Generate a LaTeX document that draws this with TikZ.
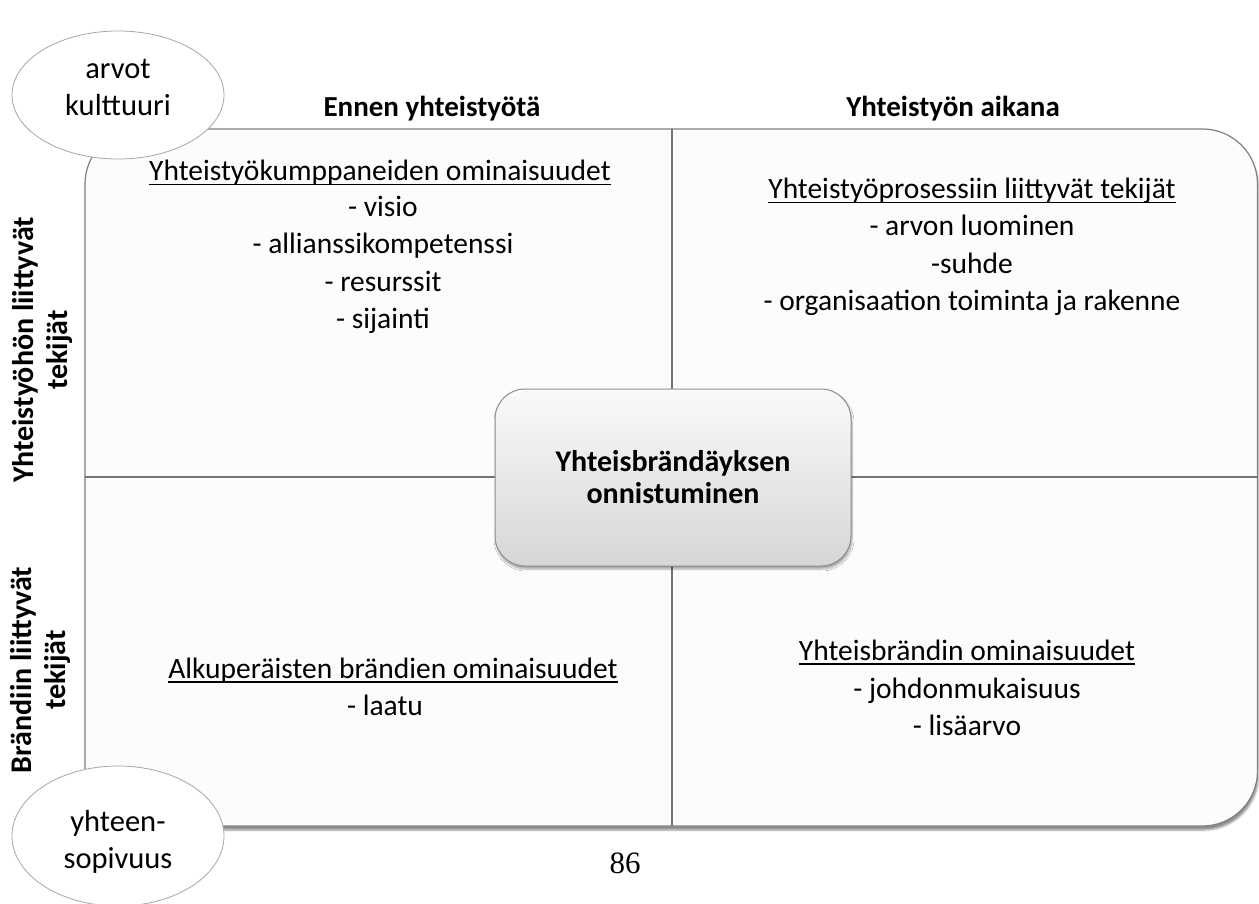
\documentclass[tikz,border=0pt]{standalone}
\usepackage{fontspec}
\setmainfont{Carlito}
\newfontfamily\pagefont{Liberation Serif}
\usetikzlibrary{shapes.geometric,shadows.blur}
% underline with a rule that scales with the text
\newcommand\ulined[1]{\setbox0\hbox{#1}\rlap{\rule[-4.5pt]{\wd0}{1.6pt}}\box0}
\begin{document}
\begin{tikzpicture}[x=1pt,y=-1pt,
  body/.style={font=\fontsize{29.5}{34}\selectfont, anchor=base, inner sep=0pt},
  head/.style={font=\bfseries\fontsize{29}{34}\selectfont, anchor=base, inner sep=0pt},
  side/.style={font=\bfseries\fontsize{30}{34}\selectfont, align=center, rotate=90, inner sep=0pt},
  oval/.style={ellipse, draw=black!35, line width=0.8pt, fill=white, minimum width=212pt, minimum height=128pt, inner sep=0pt},
  ovaltext/.style={font=\fontsize{30.5}{37}\selectfont, align=center, inner sep=0pt},
  hub/.style={draw=black!45, line width=1pt, rounded corners=30pt, top color=black!2, bottom color=black!16,
    minimum width=356pt, minimum height=177pt, align=center, font=\bfseries\fontsize{30}{32}\selectfont,
    blur shadow={shadow xshift=1pt, shadow yshift=-3pt, shadow blur steps=6, shadow opacity=35}},
  frame/.style={draw=black!50, line width=1.2pt, fill=black!1, rounded corners=55pt,
    blur shadow={shadow xshift=1pt, shadow yshift=-4pt, shadow blur steps=6, shadow opacity=45}},
  divider/.style={draw=black!55, line width=1.4pt}
]
\useasboundingbox (0,0) rectangle (1259,904);

% outer frame of the four quadrants
\path[frame] (85,129) rectangle (1257.5,826);
\coordinate (topmid) at (672,129);
\coordinate (botmid) at (672,826);
\coordinate (leftmid) at (85,477);
\coordinate (rightmid) at (1257.5,477);
\draw[divider] (topmid) -- (botmid);
\draw[divider] (leftmid) -- (rightmid);

% column headers
\node[head] (colA) at (432,117) {Ennen yhteistyötä};
\node[head] (colB) at (953,117) {Yhteistyön aikana};

% row headers
\node[side] (rowA) at (43,350) {Yhteistyöhön liittyvät\\tekijät};
\node[side] (rowB) at (41,670) {Brändiin liittyvät\\tekijät};

% top left quadrant
\node[body] (qa0) at (380,181) {\ulined{Yhteistyökumppaneiden ominaisuudet}};
\node[body] (qa1) at (383,217) {- visio};
\node[body] (qa2) at (383,254) {- allianssikompetenssi};
\node[body] (qa3) at (383,291) {- resurssit};
\node[body] (qa4) at (383,328) {- sijainti};

% top right quadrant
\node[body] (qb0) at (972,199) {\ulined{Yhteistyöprosessiin liittyvät tekijät}};
\node[body] (qb1) at (972,236) {- arvon luominen};
\node[body] (qb2) at (972,273) {-suhde};
\node[body] (qb3) at (972,310) {- organisaation toiminta ja rakenne};

% bottom left quadrant
\node[body] (qc0) at (393,678) {\ulined{Alkuperäisten brändien ominaisuudet}};
\node[body] (qc1) at (385,715) {- laatu};

% bottom right quadrant
\node[body] (qd0) at (967,660) {\ulined{Yhteisbrändin ominaisuudet}};
\node[body] (qd1) at (967,698) {- johdonmukaisuus};
\node[body] (qd2) at (967,735) {- lisäarvo};

% centre box
\node[hub] (core) at (673,477.5) {Yhteisbrändäyksen\\onnistuminen};

% corner ovals
\node[oval] (values) at (118,95) {};
\node[ovaltext] (valuestext) at (118,87) {arvot\\kulttuuri};
\node[oval, minimum height=140pt] (fit) at (118,836) {};
\node[ovaltext] (fittext) at (118,842) {yhteen-\\sopivuus};

% page number
\node[font=\pagefont\fontsize{31}{36}\selectfont, anchor=base, inner sep=0pt] (page) at (625,873) {86};
\end{tikzpicture}
\end{document}
